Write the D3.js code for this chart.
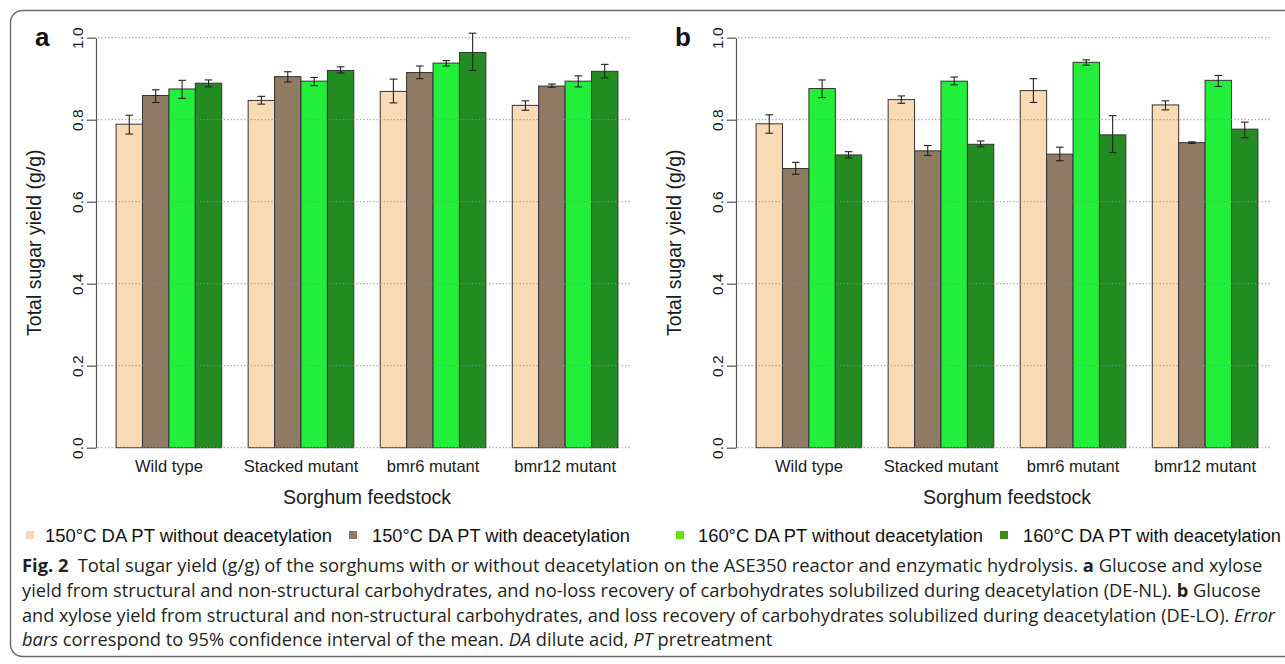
<!DOCTYPE html>
<html><head><meta charset="utf-8">
<script src="https://cdn.jsdelivr.net/npm/d3@7"></script>
<style>
html,body{margin:0;padding:0;background:#fff;}
svg{display:block;}
</style></head>
<body>
<svg id="fig" width="1285" height="664"></svg>
<script>
// ---------- data ----------
const categories = ["Wild type", "Stacked mutant", "bmr6 mutant", "bmr12 mutant"];
const seriesNames = ["150°C DA PT without deacetylation", "150°C DA PT with deacetylation",
                     "160°C DA PT without deacetylation", "160°C DA PT with deacetylation"];
const yTicks = [0.0, 0.2, 0.4, 0.6, 0.8, 1.0];
const yTickLabels = ["0.0", "0.2", "0.4", "0.6", "0.8", "1.0"];

// panel a (DE-NL): rows = categories, cols = series
const meanA = [[0.789, 0.859, 0.875, 0.889],
               [0.847, 0.905, 0.894, 0.920],
               [0.869, 0.915, 0.938, 0.964],
               [0.835, 0.882, 0.894, 0.918]];
const lowA  = [[0.765, 0.842, 0.852, 0.880],
               [0.838, 0.892, 0.883, 0.914],
               [0.841, 0.900, 0.931, 0.920],
               [0.823, 0.879, 0.880, 0.902]];
const highA = [[0.811, 0.873, 0.896, 0.897],
               [0.857, 0.917, 0.903, 0.929],
               [0.899, 0.931, 0.944, 1.011],
               [0.846, 0.887, 0.907, 0.935]];
// panel b (DE-LO)
const meanB = [[0.790, 0.681, 0.876, 0.714],
               [0.849, 0.724, 0.894, 0.740],
               [0.871, 0.716, 0.940, 0.763],
               [0.836, 0.744, 0.896, 0.777]];
const lowB  = [[0.767, 0.667, 0.854, 0.707],
               [0.840, 0.713, 0.885, 0.734],
               [0.842, 0.700, 0.933, 0.720],
               [0.824, 0.742, 0.881, 0.756]];
const highB = [[0.812, 0.696, 0.897, 0.722],
               [0.858, 0.737, 0.904, 0.748],
               [0.900, 0.733, 0.946, 0.810],
               [0.846, 0.746, 0.908, 0.794]];

const barColors = ["#f8dab4", "#8f7b63", "#22ef3a", "#228b22"];
const legendColors = ["#f5d9b8", "#8a7a66", "#66e011", "#3e8c18"];

// ---------- drawing ----------
const svg = d3.select("#fig");
const CHART_FONT = "'Liberation Sans', Arial, Helvetica, sans-serif";

// outer rounded frame
svg.append("rect").attr("x", 10.5).attr("y", 10.5).attr("width", 1320).attr("height", 646)
  .attr("rx", 12).attr("fill", "none").attr("stroke", "#6b6b6b").attr("stroke-width", 1.4);

function drawPanel(offsetX, label, means, lows, highs) {
  const plotL = 96 + offsetX, plotR = 638 + offsetX;
  const y = d3.scaleLinear().domain([0, 1]).range([447.7, 37.7]);
  const x0 = d3.scaleBand().domain(categories).range([plotL, plotR]).paddingInner(0.2).paddingOuter(0.152);
  const x1 = d3.scaleBand().domain(d3.range(seriesNames.length)).range([0, x0.bandwidth()]);
  const g = svg.append("g");

  const rows = [];
  categories.forEach((c, i) => seriesNames.forEach((s, j) => {
    rows.push({cat: c, s: j, v: means[i][j], lo: lows[i][j], hi: highs[i][j]});
  }));

  // bars
  g.selectAll("rect.bar").data(rows).join("rect").attr("class", "bar")
    .attr("x", d => x0(d.cat) + x1(d.s))
    .attr("width", x1.bandwidth())
    .attr("y", d => y(d.v))
    .attr("height", d => y(0) - y(d.v))
    .attr("fill", d => barColors[d.s])
    .attr("stroke", "#333").attr("stroke-width", 1);

  // dotted grid (drawn over bars)
  const gridR = plotR - 8;
  g.selectAll("line.grid").data(yTicks).join("line").attr("class", "grid")
    .attr("x1", plotL + 2).attr("x2", gridR)
    .attr("y1", d => y(d)).attr("y2", d => y(d))
    .attr("stroke", "#8a8a8a").attr("stroke-width", 1).attr("stroke-dasharray", "1.2 2.2");

  // error bars
  const eb = g.selectAll("g.eb").data(rows).join("g").attr("class", "eb")
    .attr("stroke", "#222").attr("stroke-width", 1.1);
  eb.append("line")
    .attr("x1", d => x0(d.cat) + x1(d.s) + x1.bandwidth() / 2)
    .attr("x2", d => x0(d.cat) + x1(d.s) + x1.bandwidth() / 2)
    .attr("y1", d => y(d.lo)).attr("y2", d => y(d.hi));
  ["lo", "hi"].forEach(k => {
    eb.append("line")
      .attr("x1", d => x0(d.cat) + x1(d.s) + x1.bandwidth() / 2 - 3.8)
      .attr("x2", d => x0(d.cat) + x1(d.s) + x1.bandwidth() / 2 + 3.8)
      .attr("y1", d => y(d[k])).attr("y2", d => y(d[k]));
  });

  // y axis
  const yAxis = d3.axisLeft(y).tickValues(yTicks).tickFormat((d, i) => yTickLabels[i])
    .tickSize(9).tickPadding(6).tickSizeOuter(0);
  const ya = g.append("g").attr("transform", `translate(${plotL},0)`).call(yAxis);
  ya.select(".domain").attr("stroke", "#555").attr("stroke-width", 1.2);
  ya.selectAll(".tick line").attr("stroke", "#555").attr("stroke-width", 1.2);
  ya.selectAll(".tick text")
    .attr("font-family", CHART_FONT).attr("font-size", 15.5).attr("fill", "#1a1a1a")
    .attr("x", null).attr("dy", null)
    .attr("text-anchor", "middle")
    .attr("transform", d => `translate(-17,${0}) rotate(-90) translate(0,5.5)`);
  ya.selectAll(".tick text").attr("transform", "translate(-18.5,0) rotate(-90)").attr("dy", "0")
    .attr("dominant-baseline", "central");

  // x category labels
  const xAxis = d3.axisBottom(x0).tickSize(0).tickPadding(0);
  const xa = g.append("g").attr("transform", `translate(0,${447.7})`).call(xAxis);
  xa.select(".domain").remove();
  xa.selectAll(".tick text").attr("font-family", CHART_FONT).attr("font-size", 16.5)
    .attr("fill", "#1a1a1a").attr("y", 24).attr("dy", 0);

  // axis titles
  g.append("text").attr("x", (plotL + plotR) / 2).attr("y", 504)
    .attr("text-anchor", "middle").attr("font-family", CHART_FONT).attr("font-size", 19.5)
    .attr("fill", "#1a1a1a").text("Sorghum feedstock");
  g.append("text").attr("transform", `translate(${41 + offsetX},${242.7}) rotate(-90)`)
    .attr("text-anchor", "middle").attr("font-family", CHART_FONT).attr("font-size", 19.5)
    .attr("fill", "#1a1a1a").text("Total sugar yield (g/g)");

  // panel label
  g.append("text").attr("x", 35 + offsetX).attr("y", 46).attr("font-family", CHART_FONT)
    .attr("font-weight", "bold").attr("font-size", 26).attr("fill", "#111").text(label);
}

drawPanel(0, "a", meanA, lowA, highA);
drawPanel(640, "b", meanB, lowB, highB);

// legend
const legendSquareX = [26, 349, 676, 1000];
const legendTextX = [45, 372, 698, 1023];
const legendTextW = [287, 258, 285, 258];
const lg = svg.append("g");
seriesNames.forEach((s, i) => {
  lg.append("rect").attr("x", legendSquareX[i]).attr("y", 531).attr("width", 8).attr("height", 8)
    .attr("fill", legendColors[i]);
  lg.append("text").attr("x", legendTextX[i]).attr("y", 541.5)
    .attr("font-family", CHART_FONT).attr("font-size", 18).attr("fill", "#111")
    .attr("textLength", legendTextW[i]).attr("lengthAdjust", "spacingAndGlyphs")
    .text(s);
});

// caption
const captionLines = [
  [["Fig. 2", "b"], ["\u2002Total sugar yield (g/g) of the sorghums with or without deacetylation on the ASE350 reactor and enzymatic hydrolysis. ", ""], ["a", "b"], [" Glucose and xylose", ""]],
  [["yield from structural and non-structural carbohydrates, and no-loss recovery of carbohydrates solubilized during deacetylation (DE-NL). ", ""], ["b", "b"], [" Glucose", ""]],
  [["and xylose yield from structural and non-structural carbohydrates, and loss recovery of carbohydrates solubilized during deacetylation (DE-LO). ", ""], ["Error", "i"]],
  [["bars", "i"], [" correspond to 95% confidence interval of the mean. ", ""], ["DA", "i"], [" dilute acid, ", ""], ["PT", "i"], [" pretreatment", ""]]
];
const captionY = [572, 597, 621.5, 646];
const captionW = [1241, 1240, 1254, 751];
const cg = svg.append("g");
captionLines.forEach((parts, li) => {
  const t = cg.append("text").attr("font-family", "'Open Sans', 'Noto Sans', sans-serif")
    .attr("font-size", 17.5).attr("fill", "#231f20").attr("xml:space", "preserve");
  parts.forEach(([str, st]) => {
    const sp = t.append("tspan").text(str);
    if (st === "b") sp.attr("font-weight", "bold");
    if (st === "i") sp.attr("font-style", "italic");
  });
  const w = t.node().getComputedTextLength();
  const sx = captionW[li] / w;
  t.attr("transform", `translate(22,${captionY[li]}) scale(${sx},1)`);
});
</script>
</body></html>
